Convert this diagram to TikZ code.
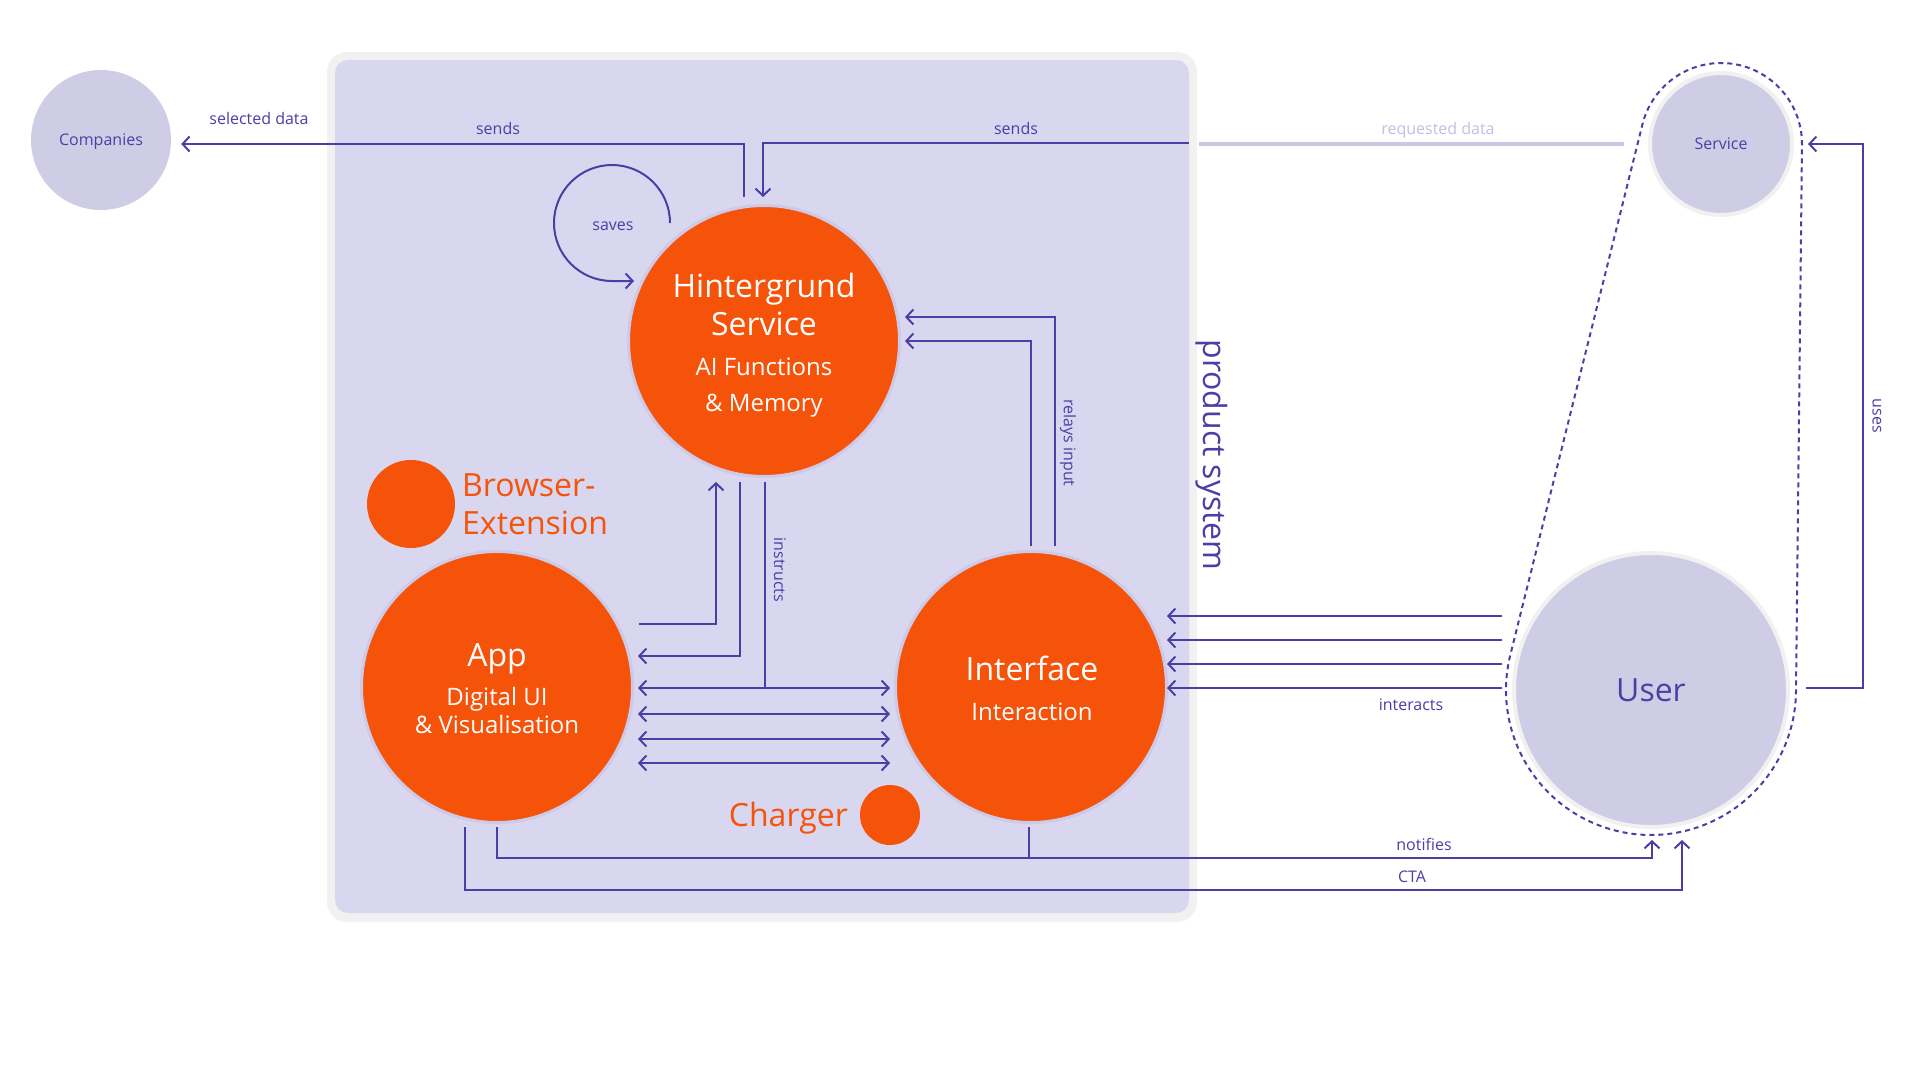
\documentclass[tikz,border=0pt]{standalone}
\usepackage{fontspec}
\setmainfont{Open Sans}
\usetikzlibrary{arrows.meta,calc}
\definecolor{ind}{HTML}{4B3FA6}
\definecolor{org}{HTML}{F5520A}
\definecolor{lav}{HTML}{D9D6EF}
\definecolor{lavc}{HTML}{CFCCE6}
\definecolor{ringc}{HTML}{CDC9E6}
\definecolor{grayb}{HTML}{F1F1F1}
\definecolor{faint}{HTML}{CBC7E6}
\definecolor{faintt}{HTML}{C4BFE2}
\tikzset{
  conn/.style={draw=ind, line width=2pt},
  arr/.style={conn, -{Straight Barb[length=7pt,width=15pt]}},
  darr/.style={conn, {Straight Barb[length=7pt,width=15pt]}-{Straight Barb[length=7pt,width=15pt]}},
  orangec/.style={circle, fill=org, draw=ringc, line width=3pt, inner sep=0pt, minimum size=271pt},
  dotc/.style={circle, fill=org, inner sep=0pt},
  graycirc/.style={circle, fill=lavc, draw=grayb, line width=4pt, inner sep=0pt, text=ind},
  bigt/.style={font=\fontsize{32}{38}\selectfont, inner sep=0pt},
  midt/.style={font=\fontsize{24}{29}\selectfont, inner sep=0pt},
  smallt/.style={font=\fontsize{16}{19}\selectfont, inner sep=0pt, text=ind},
  whitet/.style={text=white, anchor=base},
  dashln/.style={draw=ind, line width=2pt, dash pattern=on 5pt off 4pt},
}
\begin{document}
\begin{tikzpicture}[x=1pt,y=1pt]
\useasboundingbox (0,0) rectangle (1920,-1080);
\fill[white] (0,0) rectangle (1920,-1080);

% product system box
\fill[grayb, rounded corners=20pt] (327,-52) rectangle (1197,-922);
\node[fill=lav, rounded corners=13pt, inner sep=0pt, minimum width=854pt, minimum height=853pt] (sys) at (762,-486.5) {};

% outer nodes
\node[circle, fill=lavc, inner sep=0pt, minimum size=140pt, text=ind, text depth=0pt, font=\fontsize{16}{19}\selectfont] (comp) at (101,-140) {Companies};
\node[graycirc, minimum size=142pt, font=\fontsize{16}{19}\selectfont] (serv) at (1721,-144) {Service};
\node[graycirc, minimum size=274pt, font=\fontsize{32}{38}\selectfont] (user) at (1651,-690) {User};

% dashed outline
\draw[dashln] ($(serv.center)+(-0.73:81)$) arc[start angle=-0.73, end angle=165.91, radius=81]
  -- ($(user.center)+(165.91:145)$) arc[start angle=165.91, end angle=359.27, radius=145] -- cycle;

% orange nodes
\node[orangec] (hint) at (764,-341) {};
\node[orangec] (app) at (497,-687) {};
\node[orangec] (iface) at (1031,-687) {};
\node[dotc, minimum size=88pt] (bdot) at (411,-504) {};
\node[dotc, minimum size=60pt] (cdot) at (890,-815) {};

% texts in orange circles
\node[bigt, whitet] (hintA) at (764,-297) {Hintergrund};
\node[bigt, whitet] (hintB) at (764,-335.5) {Service};
\node[midt, whitet] (hintC) at (764,-375.6) {AI Functions};
\node[midt, whitet] (hintD) at (764,-411.6) {\& Memory};
\node[bigt, whitet] (appA) at (497,-666) {App};
\node[midt, whitet] (appB) at (497,-705.6) {Digital UI};
\node[midt, whitet] (appC) at (497,-733.6) {\& Visualisation};
\node[bigt, whitet] (ifA) at (1032,-680) {Interface};
\node[midt, whitet] (ifB) at (1032,-720.6) {Interaction};
\node[bigt, text=org, anchor=base west] (brA) at (462,-496) {Browser-};
\node[bigt, text=org, anchor=base west] (brB) at (462,-534) {Extension};
\node[bigt, text=org, anchor=base east] (chg) at (848,-826) {Charger};

% connectors
\coordinate (sendR) at (1189,-143);
\coordinate (reqL) at (1199,-144);
\draw[arr] ($(hint.north)+(-20,7)$) |- ($(comp.east)+(10,-4)$);
\draw[arr] (sendR) -| ($(hint.north)+(-1,7)$);
\draw[draw=faint, line width=4pt] (reqL) -- ($(serv.west)+(-24,0)$);
\draw[arr] ($(hint.center)+(-94,118)$) arc[start angle=0, end angle=270, radius=58] -- ++(22,0);
\draw[arr] ($(app.center)+(142,63)$) -| ($(hint.south)+(-48,-4)$);
\draw[arr] ($(hint.south)+(-24,-4)$) |- ($(app.center)+(141,31)$);
\draw[conn] ($(hint.south)+(1,-4)$) -- ($(app.center)+(268,-1)$);
\draw[darr] ($(app.center)+(141,-1)$) -- ($(iface.center)+(-141,-1)$);
\draw[darr] ($(app.center)+(141,-27)$) -- ($(iface.center)+(-141,-27)$);
\draw[darr] ($(app.center)+(141,-52)$) -- ($(iface.center)+(-141,-52)$);
\draw[darr] ($(app.center)+(141,-76)$) -- ($(iface.center)+(-141,-76)$);
\draw[arr] ($(iface.north)+(0,4)$) |- ($(hint.center)+(141,0)$);
\draw[arr] ($(iface.north)+(24,4)$) |- ($(hint.center)+(141,24)$);
\draw[arr] ($(user.center)+(-149,74)$) -- ($(iface.center)+(136,71)$);
\draw[arr] ($(user.center)+(-149,50)$) -- ($(iface.center)+(136,47)$);
\draw[arr] ($(user.center)+(-149,26)$) -- ($(iface.center)+(136,23)$);
\draw[arr] ($(user.center)+(-149,2)$) -- ($(iface.center)+(136,-1)$);
\draw[arr] ($(app.south)+(0,-3)$) |- ($(user.south)+(1,-29)$) -- ($(user.south)+(1,-11)$);
\draw[conn] ($(iface.south)+(-2,-3)$) -- ++(0,-32);
\draw[arr] ($(app.south)+(-32,-3)$) |- ($(user.south)+(31,-61)$) -- ($(user.south)+(31,-11)$);
\draw[arr] ($(user.east)+(16,2)$) -| ($(serv.east)+(69,0)$) -- ($(serv.east)+(14,0)$);

% labels
\node[smallt, anchor=base] (lsel) at (259,-124) {selected data};
\node[smallt, anchor=base] (lsendL) at (498,-134) {sends};
\node[smallt, anchor=base] (lsendR) at (1016,-134) {sends};
\node[smallt, anchor=base, text=faintt] (lreq) at (1438,-134) {requested data};
\node[smallt, anchor=base] (lsave) at (613,-230) {saves};
\node[smallt, rotate=-90] (linstr) at (780,-570) {instructs};
\node[smallt, rotate=-90] (lrel) at (1068,-443) {relays input};
\node[bigt, text=ind, rotate=-90] (lprod) at (1212,-455) {product system};
\node[smallt, anchor=base] (linter) at (1411,-710) {interacts};
\node[smallt, anchor=base] (lnot) at (1424,-850) {notifies};
\node[smallt, anchor=base] (lcta) at (1412,-882) {CTA};
\node[smallt, rotate=-90] (luses) at (1877,-416) {uses};
\end{tikzpicture}
\end{document}
